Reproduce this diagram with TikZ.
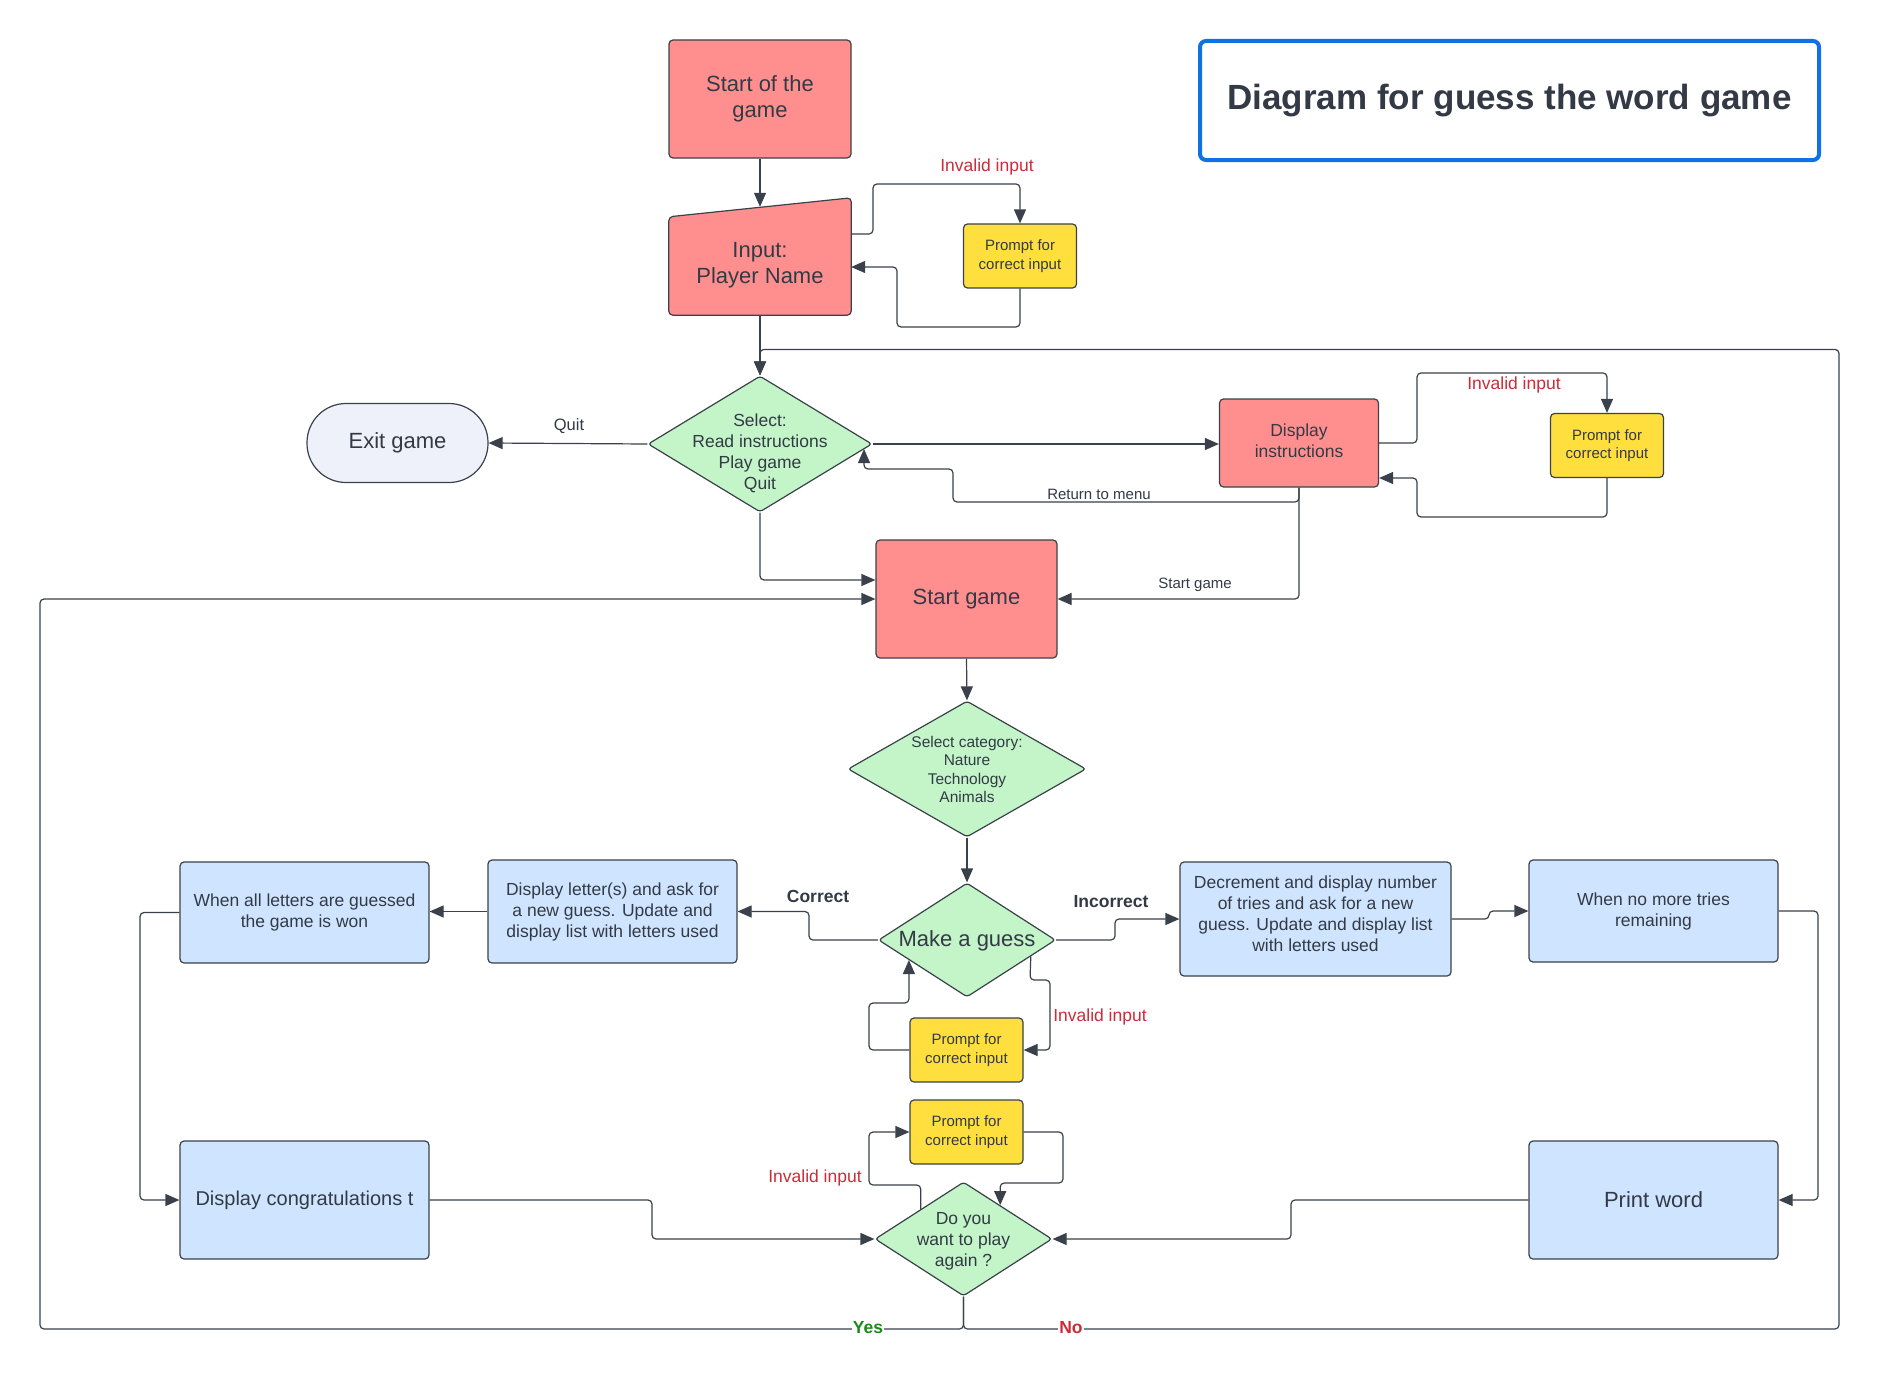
\documentclass[tikz,border=0pt]{standalone}
\usepackage{fontspec}
\setmainfont{Liberation Sans}
\usetikzlibrary{arrows.meta,shapes.geometric,calc,backgrounds}
\definecolor{ink}{HTML}{333A45}
\definecolor{ln}{HTML}{3A414A}
\definecolor{pinkf}{RGB}{255,143,143}
\definecolor{yelf}{RGB}{255,223,61}
\definecolor{grnf}{RGB}{195,245,200}
\definecolor{bluf}{RGB}{207,228,255}
\definecolor{exitf}{RGB}{238,240,250}
\definecolor{ttlblue}{HTML}{1071E5}
\definecolor{redlbl}{HTML}{C92D39}
\definecolor{grnlbl}{HTML}{1A8A1A}
\newcommand{\fsz}[2]{\fontsize{#1}{#2}\selectfont}
\newcommand{\dtxt}[2][-4pt]{\smash{\makebox[0pt]{\raisebox{#1}{\begin{tabular}{@{}c@{}}#2\end{tabular}}}}}
\begin{document}
\begin{tikzpicture}[x=1pt,y=-1pt,
  box/.style={draw=ln, line width=1.2pt, rounded corners=4pt, align=center, text=ink, inner sep=0pt},
  pinkbox/.style={box, fill=pinkf},
  ybox/.style={box, fill=yelf, minimum width=113pt, minimum height=64pt, font=\fsz{15}{18.5}},
  bbox/.style={box, fill=bluf, minimum width=249pt},
  dia/.style={diamond, draw=ln, line width=1.2pt, rounded corners=3pt, fill=grnf, inner sep=0pt, text=ink},
  conn/.style={draw=ln, line width=1.2pt, rounded corners=4pt, -{Triangle[length=14pt,width=12pt]}},
  lbl/.style={text=ink, inner sep=1pt, font=\fsz{15}{18}},
  redl/.style={text=redlbl, inner sep=1pt, font=\fsz{17.5}{21}},
  boldl/.style={text=ink, inner sep=1pt, font=\fsz{17.5}{21}\bfseries}
]
\useasboundingbox (0,0) rectangle (1880,1381);

% title
\node[draw=ttlblue, line width=4pt, rounded corners=6pt, minimum width=619pt, minimum height=119pt, text=ink, font=\fsz{35}{40}\bfseries] (title) at (1509.5,100.5) {Diagram for guess the word game};

% top part
\node[pinkbox, minimum width=182pt, minimum height=118pt, font=\fsz{22}{26.5}] (start) at (760,99) {Start of the\\game};
\node[align=center, text=ink, inner sep=0pt, minimum width=182pt, minimum height=100pt, font=\fsz{22}{26.5}] (inp) at (760,265) {Input:\\Player Name};
\begin{scope}[on background layer]
\fill[white] (0,0) rectangle (1880,1381);
\draw[draw=ln, fill=pinkf, line width=1.2pt, rounded corners=4pt] (inp.south west) -- (inp.south east) -- ([yshift=17pt]inp.north east) -- ([yshift=-2pt]inp.north west) -- cycle;
\end{scope}
\node[ybox] (p1) at (1020,256) {Prompt for\\correct input};

\node[dia, minimum width=224pt, minimum height=136pt, font=\fsz{17.5}{21}] (sel) at (760,444) {\dtxt[-14pt]{Select:\\Read instructions\\Play game\\Quit}};
\node[box, fill=exitf, rounded corners=39pt, minimum width=181pt, minimum height=79pt, font=\fsz{22}{26.5}] (exit) at (397.5,443) {Exit game};
\node[pinkbox, minimum width=159pt, minimum height=88pt, font=\fsz{17.5}{21}] (di) at (1299,443) {Display\\instructions\\[-16pt]};
\node[ybox] (p2) at (1607,445.5) {Prompt for\\correct input};
\node[pinkbox, minimum width=181pt, minimum height=118pt, font=\fsz{22}{26.5}] (sg) at (966.5,599) {Start game};

% middle
\node[dia, minimum width=238pt, minimum height=136pt, font=\fsz{15.5}{18.5}] (cat) at (967,769) {\dtxt[-6pt]{Select category:\\Nature\\Technology\\Animals}};
\node[dia, minimum width=177pt, minimum height=114pt, font=\fsz{22}{26.5}] (guess) at (967,940) {\dtxt[-6pt]{Make a guess}};
\node[ybox] (p3) at (966.5,1050) {Prompt for\\correct input};
\node[ybox] (p4) at (966.5,1132) {Prompt for\\correct input};
\node[dia, minimum width=177pt, minimum height=114pt, font=\fsz{17.5}{21}] (play) at (963.5,1239) {\dtxt[-6.5pt]{Do you\\want to play\\again ?}};

\node[bbox, minimum height=103pt, font=\fsz{17.5}{21}] (dl) at (612.5,911.5) {Display letter(s) and ask for\\a new guess. Update and\\display list with letters used};
\node[bbox, minimum height=101pt, font=\fsz{17.5}{21}] (wa) at (304.5,912.5) {When all letters are guessed\\the game is won};
\node[bbox, minimum height=118pt, font=\fsz{20}{24}] (cg) at (304.5,1200) {Display congratulations t};
\node[box, fill=bluf, minimum width=271pt, minimum height=114pt, font=\fsz{17.5}{21}] (dec) at (1315.5,919) {Decrement and display number\\of tries and ask for a new\\guess. Update and display list\\with letters used\\[-10pt]};
\node[bbox, minimum height=102pt, font=\fsz{17.5}{21}] (wn) at (1653.5,911) {When no more tries\\remaining};
\node[bbox, minimum height=118pt, font=\fsz{22}{26.5}] (pw) at (1653.5,1200) {Print word};

% connectors top
\draw[conn] (start.south) -- ([yshift=8pt]inp.north);
\draw[conn] ([yshift=31pt]inp.east) -| (873,184) -| (p1.north);
\draw[conn] (p1.south) |- (897,327) |- ([yshift=-2pt]inp.east);
\node[redl] (inv1) at (987,167) {Invalid input};
\draw[conn] (inp.south) -- (sel.north);
\draw[conn] (sel.west) -- (exit.east);
\node[lbl, font=\fsz{16.5}{20}] (quit) at (569,426) {Quit};
\draw[conn] (sel.east) -- (sel.east -| di.west);
\draw[conn] (di.east) -| (1417,373) -| (p2.north);
\node[redl] (inv2) at (1514,385) {Invalid input};
\draw[conn] (p2.south) |- (1417,517) |- ([yshift=-35pt]di.east);
\draw[conn] (di.south) |- (953,502) |- (864,469) -- (864,449);
\node[lbl] (rtm) at (1099,494) {Return to menu};
\draw[conn] (di.south) |- (sg.east);
\node[lbl] (sgl) at (1195,585) {Start game};
\draw[conn] (sel.south) |- ([yshift=19pt]sg.west);
\draw[conn] (sg.south) -- (cat.north);
\draw[conn] (cat.south) -- (guess.north);

% guess branches
\draw[conn] (guess.west) -- (809,940) |- (dl.east);
\node[boldl] (corr) at (818,896) {Correct};
\draw[conn] (dl.west) -- (dl.west -| wa.east);
\draw[conn] (wa.west) -- (140,912.5) |- (cg.west);
\draw[conn] (cg.east) -- (652,1200) |- (play.west);
\draw[conn] (guess.east) -- (1115,940) |- (dec.west);
\node[boldl] (incorr) at (1111,902) {Incorrect};
\draw[conn] (dec.east) -- (1489,919) |- (wn.west);
\draw[conn] (wn.east) -- (1818,911) |- (pw.east);
\draw[conn] (pw.west) -- (1291,1200) |- (play.east);

% invalid loops
\draw[conn] ($(guess.east)!0.284!(guess.south)$) -- (1030,980) -| (1050,1015) |- (p3.east);
\node[redl] (inv3) at (1100,1017) {Invalid input};
\draw[conn] (p3.west) -| (869,1003) -| ($(guess.west)!0.348!(guess.south)$);
\draw[conn] ($(play.west)!0.52!(play.north)$) |- (869,1185) |- (p4.west);
\node[redl] (inv4) at (815,1178) {Invalid input};
\draw[conn] (p4.east) -| (1063,1183) -| ($(play.north)!0.412!(play.east)$);

% big loops
\draw[conn] (play.south) |- (40,1329) |- (sg.west);
\draw[conn] (play.south) |- (1839,1329) |- ($(sel.north)+(0,-26)$) -- (sel.north);
\node[fill=white, inner sep=1pt, text=grnlbl, font=\fsz{17.5}{21}\bfseries] (yes) at (868,1328) {Yes};
\node[fill=white, inner sep=1pt, text=redlbl, font=\fsz{17.5}{21}\bfseries] (no) at (1071,1328) {No};
\end{tikzpicture}
\end{document}
